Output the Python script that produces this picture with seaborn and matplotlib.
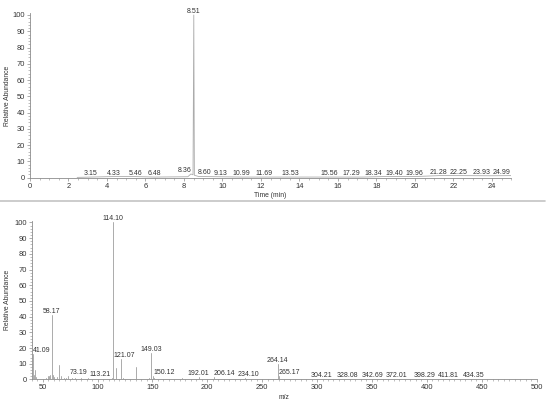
import matplotlib
matplotlib.use("Agg")
import matplotlib.pyplot as plt
import numpy as np
import pandas as pd
import seaborn as sns
from matplotlib.ticker import MultipleLocator
from matplotlib.lines import Line2D

# ---------------- data ----------------
# Chromatogram (total ion current) trace
rt_time = [2.45, 3.15, 4.33, 5.46, 6.48, 8.20, 8.36, 8.47, 8.51, 8.54, 8.60, 8.75,
           9.13, 10.99, 11.69, 13.53, 15.56, 17.29, 18.34, 19.40, 19.96, 21.28,
           22.25, 23.93, 24.99]
rt_abund = [0.2, 0.4, 0.7, 0.7, 0.4, 0.6, 2.3, 1.8, 100.0, 1.5, 1.3, 0.8,
            0.7, 0.4, 0.4, 0.4, 0.4, 0.4, 0.7, 0.7, 0.7, 1.3,
            1.3, 1.2, 1.3]
rt_labels = ["3.15", "4.33", "5.46", "6.48", "8.36", "8.51", "8.60", "9.13",
             "10.99", "11.69", "13.53", "15.56", "17.29", "18.34", "19.40",
             "19.96", "21.28", "22.25", "23.93", "24.99"]

# Mass spectrum sticks
mz_values = [39.1, 41.09, 42.1, 43.1, 44.1, 53.1, 55.1, 56.1, 57.1, 58.17,
             59.1, 60.1, 63.1, 65.1, 67.1, 69.1, 71.1, 73.19, 77.1, 79.1,
             85.1, 91.1, 97.1, 107.1, 113.21, 114.10, 117.1, 121.07, 123.1,
             135.1, 147.1, 149.03, 150.12, 151.1, 163.1, 177.1, 192.01,
             206.14, 234.10, 264.14, 265.17, 304.21, 328.08, 342.69, 372.01,
             398.29, 411.81, 434.35]
mz_abund = [3.0, 16.0, 3.0, 6.0, 1.5, 1.0, 2.0, 2.0, 3.0, 41.0,
            3.0, 1.5, 1.5, 9.0, 2.0, 1.0, 1.0, 2.3, 1.0, 0.8,
            0.8, 0.8, 0.5, 0.6, 1.2, 100.0, 7.0, 13.0, 1.0,
            8.0, 1.0, 17.0, 2.0, 1.0, 0.6, 0.8, 1.5,
            1.5, 1.0, 10.0, 2.0, 0.3, 0.3, 0.3, 0.3,
            0.3, 0.3, 0.3]
mz_labels = ["41.09", "58.17", "73.19", "113.21", "114.10", "121.07", "149.03",
             "150.12", "192.01", "206.14", "234.10", "264.14", "265.17",
             "304.21", "328.08", "342.69", "372.01", "398.29", "411.81",
             "434.35"]

# ---------------- style ----------------
sns.set_theme(style="ticks")
plt.rcParams["font.family"] = ["Liberation Sans", "DejaVu Sans"]
TXT = "#333333"
AXC = "#8c8c8c"
LINE = "#ababab"
TICK_FS = 5.4
PEAK_FS = 5.0
LAB_FS = 4.9

# horizontal nudges of labels (data units), to avoid overlaps as in original
rt_nudge = {"8.36": -0.35, "8.60": 0.46, "9.13": 0.76, "11.69": 0.45,
            "17.29": -0.58, "18.34": -0.49, "19.40": -0.48, "21.28": -0.07,
            "23.93": -0.48, "24.99": -0.49}
mz_nudge = {"41.09": 8.0, "73.19": 9.8, "113.21": -10.5, "121.07": 3.1,
            "150.12": 10.3, "206.14": 9.0, "234.10": 3.0, "265.17": 10.0,
            "342.69": 7.6, "411.81": 7.8, "434.35": 8.3}

fig = plt.figure(figsize=(5.5, 4.05), dpi=100)
ax1 = fig.add_axes([0.0545, 0.5612, 0.9295 - 0.0545, 0.967 - 0.5612])
ax2 = fig.add_axes([0.0576, 0.0630, 0.9755 - 0.0576, 0.4546 - 0.0630])


def style_axis(ax, ylab_x):
    for s in ("top", "right"):
        ax.spines[s].set_visible(False)
    for s in ("left", "bottom"):
        ax.spines[s].set_color(AXC)
        ax.spines[s].set_linewidth(0.6)
    ax.tick_params(axis="both", which="major", length=2.2, width=0.5,
                   color=AXC, labelsize=TICK_FS, labelcolor=TXT, pad=1.3)
    ax.tick_params(axis="both", which="minor", length=1.1, width=0.4,
                   color=AXC)
    ax.set_ylabel("Relative Abundance", fontsize=LAB_FS, color=TXT)
    ax.yaxis.set_label_coords(ylab_x, 0.5)
    ax.set_ylim(0, 101)
    ax.yaxis.set_major_locator(MultipleLocator(10))
    ax.yaxis.set_minor_locator(MultipleLocator(2))


# ---- chromatogram ----
sns.lineplot(x=rt_time, y=rt_abund, estimator=None, sort=False, color=LINE,
             linewidth=0.6, ax=ax1)
style_axis(ax1, -0.040)
ax1.set_xlim(0, 25)
ax1.xaxis.set_major_locator(MultipleLocator(2))
ax1.xaxis.set_minor_locator(MultipleLocator(0.5))
ax1.set_xlabel("Time (min)", fontsize=LAB_FS, color=TXT, labelpad=2)
for lab in rt_labels:
    t = float(lab)
    i = int(np.argmin(np.abs(np.array(rt_time) - t)))
    ax1.annotate(lab, (rt_time[i], rt_abund[i]),
                 xytext=(rt_time[i] + rt_nudge.get(lab, 0.0), rt_abund[i]),
                 textcoords="data", ha="center", va="bottom",
                 fontsize=PEAK_FS, color=TXT, annotation_clip=False)

# ---- spectrum ----
spec = pd.DataFrame({
    "mz": np.repeat(mz_values, 2),
    "ab": np.ravel(np.column_stack([np.zeros(len(mz_abund)), mz_abund])),
    "peak": np.repeat(np.arange(len(mz_values)), 2),
})
sns.lineplot(data=spec, x="mz", y="ab", units="peak", estimator=None,
             color=LINE, linewidth=0.7, ax=ax2, legend=False)
style_axis(ax2, -0.041)
ax2.set_xlim(40, 500)
ax2.xaxis.set_major_locator(MultipleLocator(50))
ax2.xaxis.set_minor_locator(MultipleLocator(5))
ax2.set_xlabel("m/z", fontsize=LAB_FS, color=TXT, labelpad=2)
for lab in mz_labels:
    m = float(lab)
    i = int(np.argmin(np.abs(np.array(mz_values) - m)))
    ax2.annotate(lab, (mz_values[i], mz_abund[i]),
                 xytext=(mz_values[i] + mz_nudge.get(lab, 0.0), mz_abund[i]),
                 textcoords="data", ha="center", va="bottom",
                 fontsize=PEAK_FS, color=TXT, annotation_clip=False)

# separator between the two panels
fig.add_artist(Line2D([0.0, 0.991], [0.503, 0.503], transform=fig.transFigure,
                      color="#c4c4c4", linewidth=1.2))

fig.savefig("out.png", dpi=100)
